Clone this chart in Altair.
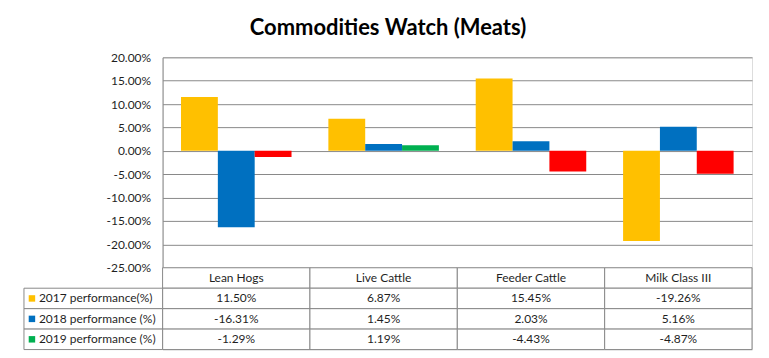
import altair as alt
import pandas as pd

# ---- data ----
categories = ["Lean Hogs", "Live Cattle", "Feeder Cattle", "Milk Class III"]
series_names = ["2017 performance(%)", "2018 performance (%)", "2019 performance (%)"]
perf_2017 = [11.50, 6.87, 15.45, -19.26]
perf_2018 = [-16.31, 1.45, 2.03, 5.16]
perf_2019 = [-1.29, 1.19, -4.43, -4.87]
y_ticks = [20, 15, 10, 5, 0, -5, -10, -15, -20, -25]
chart_title = "Commodities Watch (Meats)"

# ---- styles ----
SERIES_COLORS = {
    "2017 performance(%)": "#FFC000",
    "2018 performance (%)": "#0070C0",
    "2019 performance (%)": "#00B050",
}
NEG_2019_COLOR = "#FF0000"
GRID = "#898989"
TEXT = "#1f1f1f"
FONT = "Lato"
FS = 12

PLOT_W = 591
PLOT_H = 211
TABLE_H = 82
STEP = PLOT_W / len(categories)
LEG_W = 139 / STEP  # legend column width in category units

# ---- bar data ----
rows = []
for s, vals in zip(series_names, [perf_2017, perf_2018, perf_2019]):
    for c, v in zip(categories, vals):
        if s == series_names[2] and v < 0:
            fill = NEG_2019_COLOR
        else:
            fill = SERIES_COLORS[s]
        rows.append({"category": c, "series": s, "value": v, "fill": fill})
bars_df = pd.DataFrame(rows)


def fmt(v):
    return f"{v:.2f}%"


# ---- table data ----
row_order = ["header"] + series_names
cells = []
for i, c in enumerate(categories):
    cells.append({"row": "header", "x0": i, "x1": i + 1, "xc": i + 0.5, "text": c})
for s, vals in zip(series_names, [perf_2017, perf_2018, perf_2019]):
    for i, v in enumerate(vals):
        cells.append({"row": s, "x0": i, "x1": i + 1, "xc": i + 0.5, "text": fmt(v)})
cells_df = pd.DataFrame(cells)

legend_df = pd.DataFrame(
    [{"row": s, "x0": -LEG_W, "x1": 0, "text": s, "color": SERIES_COLORS[s]} for s in series_names]
)

# ---- bar chart ----
label_expr = "replace(format(datum.value, '.2f'), '\u2212', '-') + '%'"
bars = alt.Chart(bars_df).mark_bar().encode(
    x=alt.X(
        "category:N",
        sort=categories,
        scale=alt.Scale(domain=categories, paddingInner=0.25, paddingOuter=0.125),
        axis=None,
    ),
    xOffset=alt.XOffset(
        "series:N",
        sort=series_names,
        scale=alt.Scale(domain=series_names, paddingInner=0, paddingOuter=0),
    ),
    y=alt.Y(
        "value:Q",
        scale=alt.Scale(domain=[-25, 20], nice=False, zero=False),
        axis=alt.Axis(
            values=y_ticks,
            labelExpr=label_expr,
            title=None,
            grid=True,
            gridColor=GRID,
            domainColor=GRID,
            ticks=False,
            labelPadding=12,
            labelFontSize=FS,
            labelColor=TEXT,
            labelFont=FONT,
        ),
    ),
    color=alt.Color("fill:N", scale=None),
).properties(width=PLOT_W, height=PLOT_H)

# ---- data table ----
x_scale = alt.Scale(domain=[0, len(categories)], nice=False, zero=False)
y_scale = alt.Scale(domain=row_order, paddingInner=0, paddingOuter=0)

rect_df = pd.concat([cells_df[["row", "x0", "x1"]], legend_df[["row", "x0", "x1"]]])
table_cells = alt.Chart(rect_df).mark_rect(fill="white", stroke=GRID, strokeWidth=1).encode(
    x=alt.X("x0:Q", scale=x_scale, axis=None),
    x2="x1:Q",
    y=alt.Y("row:N", sort=row_order, scale=y_scale, axis=None),
)
table_text = alt.Chart(cells_df).mark_text(
    font=FONT, fontSize=FS, color=TEXT, align="center", baseline="middle"
).encode(
    x=alt.X("xc:Q", scale=x_scale, axis=None),
    y=alt.Y("row:N", sort=row_order, scale=y_scale, axis=None),
    text="text:N",
)
legend_text = alt.Chart(legend_df).mark_text(
    font=FONT, fontSize=FS, color=TEXT, align="left", baseline="middle", dx=15
).encode(
    x=alt.X("x0:Q", scale=x_scale, axis=None),
    y=alt.Y("row:N", sort=row_order, scale=y_scale, axis=None),
    text="text:N",
)
legend_sq = alt.Chart(legend_df).transform_calculate(
    xs=f"datum.x0 + {8 / STEP}"
).mark_square(size=42, opacity=1).encode(
    x=alt.X("xs:Q", scale=x_scale, axis=None),
    y=alt.Y("row:N", sort=row_order, scale=y_scale, axis=None),
    color=alt.Color("color:N", scale=None),
)
table = alt.layer(table_cells, table_text, legend_text, legend_sq).properties(
    width=PLOT_W, height=TABLE_H
)

chart = alt.vconcat(bars, table, spacing=0, bounds="flush").properties(
    title=alt.TitleParams(
        chart_title, fontSize=22, font=FONT, fontWeight="bold", anchor="middle", offset=11, color="black"
    ),
    padding={"left": 15, "top": 8, "right": 8, "bottom": 0},
).configure_view(stroke=None).configure(background="white")

chart.save("out.html", embed_options={"renderer": "svg", "actions": False})
